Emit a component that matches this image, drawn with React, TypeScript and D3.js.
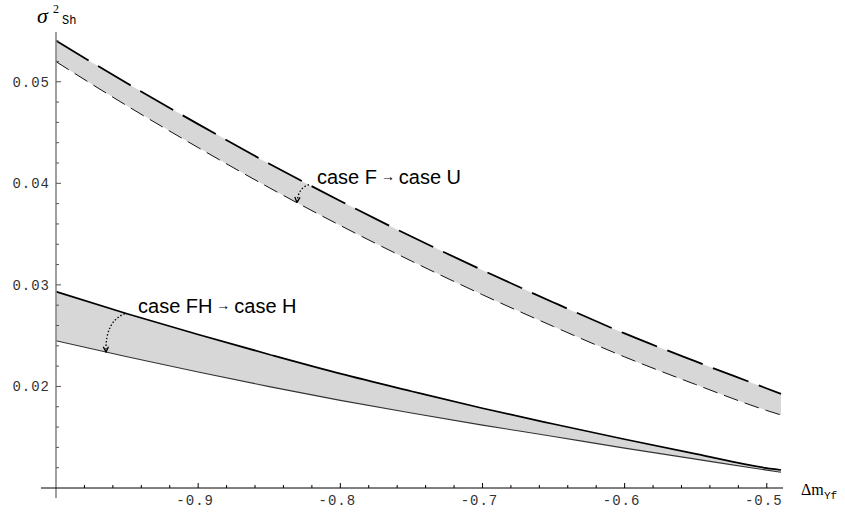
import React from 'react';
import * as d3 from 'd3';

// x positions (Δm_Yf) at which the curves were read
const xValues = [-1, -0.95, -0.9, -0.85, -0.8, -0.75, -0.7, -0.65, -0.6, -0.55, -0.5, -0.49];
// upper band: case F (long dashes) and case U (short dashes)
const caseF = [0.05404, 0.04985, 0.04583, 0.04193, 0.03826, 0.03476, 0.03145, 0.02827, 0.02522, 0.02246, 0.0198, 0.01926];
const caseU = [0.05198, 0.04763, 0.04352, 0.03957, 0.03585, 0.03235, 0.02903, 0.0259, 0.02291, 0.02019, 0.01763, 0.01719];
// lower band: case FH (solid thick) and case H (solid thin)
const caseFH = [0.02933, 0.02716, 0.02511, 0.02315, 0.02126, 0.01953, 0.01785, 0.0163, 0.0148, 0.01336, 0.01196, 0.01177];
const caseH = [0.0245, 0.02293, 0.02142, 0.01998, 0.01863, 0.01738, 0.01619, 0.01507, 0.01393, 0.01284, 0.01176, 0.01155];

const xTickValues = [-0.9, -0.8, -0.7, -0.6, -0.5];
const xTickLabels = ['-0.9', '-0.8', '-0.7', '-0.6', '-0.5'];
const yTickValues = [0.02, 0.03, 0.04, 0.05];
const yTickLabels = ['0.02', '0.03', '0.04', '0.05'];

// annotations (data coordinates)
const labelFU = { x: -0.8164, y: 0.03993, from: 'case F', to: 'case U' };
const labelFH = { x: -0.9423, y: 0.02723, from: 'case FH', to: 'case H' };
const arrowFU = { x0: -0.822, y0: 0.03987, cx: -0.8295, cy: 0.0396, x1: -0.8305, y1: 0.03812 };
const arrowFH = { x0: -0.9515, y0: 0.02716, cx: -0.9655, cy: 0.02644, x1: -0.9648, y1: 0.02339 };

const W = 845;
const H = 514;

export default function App() {
  const x = d3.scaleLinear().domain([-1, -0.49]).range([56, 781]);
  const y = d3.scaleLinear().domain([0.01, 0.0549]).range([488, 32]);

  const upper = xValues.map((v, i) => ({ x: v, top: caseF[i], bot: caseU[i] }));
  const lower = xValues.map((v, i) => ({ x: v, top: caseFH[i], bot: caseH[i] }));
  type P = { x: number; top: number; bot: number };

  const area = d3
    .area<P>()
    .x((d) => x(d.x))
    .y0((d) => y(d.bot))
    .y1((d) => y(d.top))
    .curve(d3.curveMonotoneX);
  const lineTop = d3
    .line<P>()
    .x((d) => x(d.x))
    .y((d) => y(d.top))
    .curve(d3.curveMonotoneX);
  const lineBot = d3
    .line<P>()
    .x((d) => x(d.x))
    .y((d) => y(d.bot))
    .curve(d3.curveMonotoneX);

  const xMinor = d3.range(1, 26).map((i) => ({ v: -1 + i * 0.02, major: i % 5 === 0 }));
  const yMinor = d3.range(1, 23).map((i) => ({ v: 0.01 + i * 0.002, major: i % 5 === 0 }));

  const arrowPath = (a: typeof arrowFU) => {
    const p = d3.path();
    p.moveTo(x(a.x0), y(a.y0));
    p.quadraticCurveTo(x(a.cx), y(a.cy), x(a.x1), y(a.y1));
    return p.toString();
  };

  const axisY = y(0.01);
  const mono = "'Liberation Mono', 'DejaVu Sans Mono', monospace";
  const serif = "'Liberation Serif', 'Times New Roman', serif";
  const sans = "'Liberation Sans', Arial, sans-serif";

  return (
    <svg
      width={W}
      height={H}
      style={{ position: 'absolute', left: 0, top: 0, background: '#fff' }}
    >
      <defs>
        <marker id="ah" viewBox="0 0 8 8" refX="7" refY="4" markerWidth="7" markerHeight="7" orient="auto" markerUnits="userSpaceOnUse">
          <path d="M1,1 L7,4 L1,7" fill="none" stroke="#000" strokeWidth={1.5} />
        </marker>
      </defs>

      {/* bands */}
      <path d={area(upper) || ''} fill="#d7d7d7" stroke="none" />
      <path d={area(lower) || ''} fill="#d7d7d7" stroke="none" />

      <path d={lineTop(upper) || ''} fill="none" stroke="#000" strokeWidth={1.8} strokeDasharray="38 11" />
      <path d={lineBot(upper) || ''} fill="none" stroke="#111" strokeWidth={1} strokeDasharray="15 7" />
      <path d={lineTop(lower) || ''} fill="none" stroke="#000" strokeWidth={1.7} />
      <path d={lineBot(lower) || ''} fill="none" stroke="#333" strokeWidth={1.1} />

      {/* arrows */}
      <path d={arrowPath(arrowFU)} fill="none" stroke="#000" strokeWidth={1.3} strokeDasharray="1.5 2" markerEnd="url(#ah)" />
      <path d={arrowPath(arrowFH)} fill="none" stroke="#000" strokeWidth={1.3} strokeDasharray="1.5 2" markerEnd="url(#ah)" />

      {/* labels */}
      {[labelFU, labelFH].map((l, i) => (
        <text key={i} x={x(l.x)} y={y(l.y)} fontFamily={sans} fontSize={20} fill="#000">
          {l.from}
          <tspan fontSize={14} dy={-3}>{' \u2192 '}</tspan>
          <tspan dy={3}>{l.to}</tspan>
        </text>
      ))}

      {/* axes */}
      <line x1={x(-1)} x2={x(-1)} y1={32} y2={498} stroke="#888" strokeWidth={1.6} />
      <line x1={41} x2={783} y1={axisY} y2={axisY} stroke="#000" strokeWidth={1} />

      {xMinor.map((t, i) => (
        <line key={'xt' + i} x1={x(t.v)} x2={x(t.v)} y1={axisY} y2={axisY - (t.major ? 5 : 3)} stroke="#000" strokeWidth={1} />
      ))}
      {yMinor.map((t, i) => (
        <line key={'yt' + i} x1={x(-1)} x2={x(-1) + (t.major ? 5 : 3)} y1={y(t.v)} y2={y(t.v)} stroke="#555" strokeWidth={1} />
      ))}

      {xTickValues.map((v, i) => (
        <text key={'xl' + i} x={x(v) - 3} y={505} textAnchor="middle" fontFamily={mono} fontSize={14} letterSpacing={1} fill="#333">
          {xTickLabels[i]}
        </text>
      ))}
      {yTickValues.map((v, i) => (
        <text key={'yl' + i} x={50} y={y(v) + 5} textAnchor="end" fontFamily={mono} fontSize={14} letterSpacing={1} fill="#333">
          {yTickLabels[i]}
        </text>
      ))}

      {/* axis titles */}
      <text x={37} y={23} fontFamily={serif} fontStyle="italic" fontSize={22} fill="#000">σ</text>
      <text x={53} y={13} fontFamily={serif} fontSize={12} fill="#000">2</text>
      <text x={62} y={24} fontFamily={mono} fontSize={12} fill="#000">Sh</text>

      <text x={801} y={495} fontFamily={serif} fontSize={16} fill="#000">Δm</text>
      <text x={824} y={499} fontFamily={mono} fontSize={11} fill="#000">Yf</text>
    </svg>
  );
}
